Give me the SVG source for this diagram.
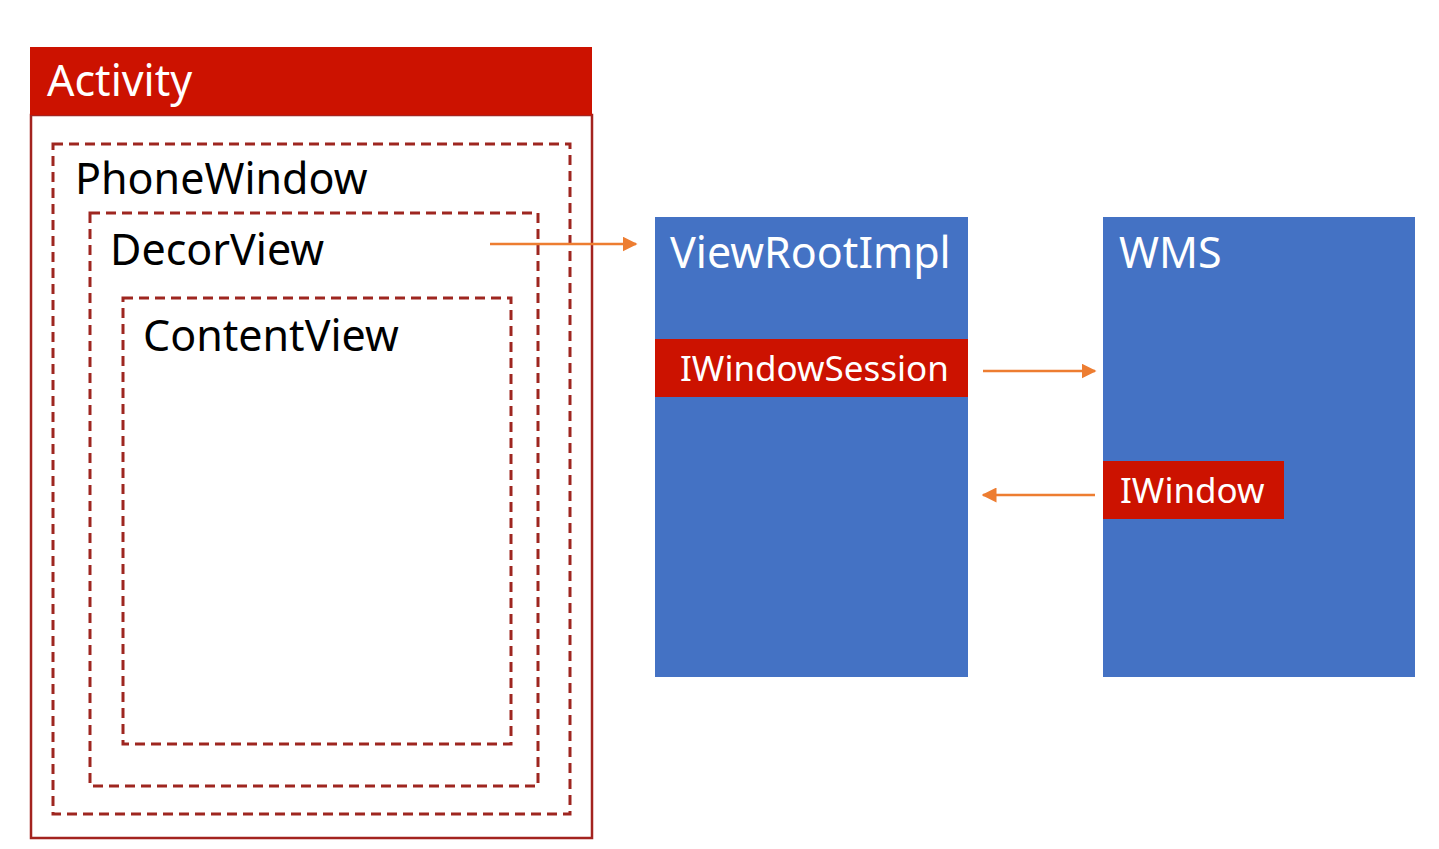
<svg xmlns="http://www.w3.org/2000/svg" width="1439" height="849" viewBox="0 0 1439 849">
<style>
text{font-family:"Noto Sans","Open Sans","Liberation Sans",sans-serif}
.big{font-size:43px}
.w{fill:#ffffff}
.k{fill:#000000}
.dash{fill:none;stroke:#9e2620;stroke-width:3;stroke-dasharray:10 6}
.blue{fill:#4472c4}
.red{fill:#cc1200}
.conn{stroke:#ed7d31;stroke-width:2.5;fill:none}
</style>
<defs>
<marker id="ah" viewBox="0 0 10 10" refX="9" refY="5" markerWidth="6" markerHeight="6" orient="auto" markerUnits="strokeWidth">
<path d="M0,0 L10,5 L0,10 z" fill="#ed7d31"/>
</marker>
</defs>
<rect width="1439" height="849" fill="#ffffff"/>
<g id="activity">
<rect x="31" y="115" width="561" height="723" fill="#ffffff" stroke="#a3231f" stroke-width="2.5"/>
<rect x="30" y="47" width="562" height="68" class="red"/>
<text x="47" y="96" class="big w">Activity</text>
</g>
<g id="phonewindow">
<rect x="53" y="144" width="517" height="670" class="dash"/>
<text x="75" y="194" class="big k">PhoneWindow</text>
</g>
<g id="decorview">
<rect x="90" y="213" width="448" height="573" class="dash"/>
<text x="110" y="265" class="big k">DecorView</text>
</g>
<g id="contentview">
<rect x="123" y="298" width="388" height="446" class="dash"/>
<text x="143" y="351" class="big k">ContentView</text>
</g>
<g id="viewrootimpl">
<rect x="655" y="217" width="313" height="460" class="blue"/>
<text x="670" y="268" class="big w">ViewRootImpl</text>
</g>
<g id="iwindowsession">
<rect x="655" y="339" width="313" height="58" class="red"/>
<text x="680" y="381" class="w" font-size="35">IWindowSession</text>
</g>
<g id="wms">
<rect x="1103" y="217" width="312" height="460" class="blue"/>
<text x="1119" y="268" class="big w">WMS</text>
</g>
<g id="iwindow">
<rect x="1103" y="461" width="181" height="58" class="red"/>
<text x="1120" y="503" class="w" font-size="35">IWindow</text>
</g>
<g id="connectors">
<line x1="490" y1="244" x2="636" y2="244" class="conn" marker-end="url(#ah)"/>
<line x1="983" y1="371" x2="1095" y2="371" class="conn" marker-end="url(#ah)"/>
<line x1="1095" y1="495" x2="983" y2="495" class="conn" marker-end="url(#ah)"/>
</g>
</svg>
